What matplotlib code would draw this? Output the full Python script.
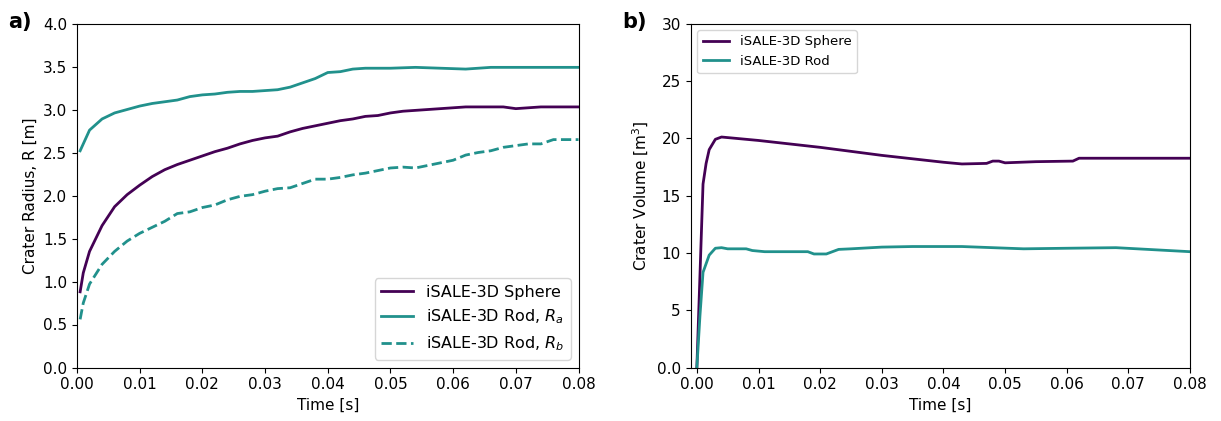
import matplotlib
matplotlib.use('Agg')
import matplotlib.pyplot as plt
import numpy as np

PURPLE = '#440154'
TEAL = '#21918c'

# panel a) crater radius
t_sphere = [0.0005, 0.001, 0.002, 0.004, 0.006, 0.008, 0.010, 0.012, 0.014, 0.016, 0.018, 0.020,
            0.022, 0.024, 0.026, 0.028, 0.030, 0.032, 0.034, 0.036, 0.038, 0.040, 0.042, 0.044,
            0.046, 0.048, 0.050, 0.052, 0.054, 0.056, 0.058, 0.060, 0.062, 0.064, 0.066, 0.068,
            0.070, 0.072, 0.074, 0.076, 0.078, 0.080]
r_sphere = [0.88, 1.10, 1.35, 1.65, 1.87, 2.01, 2.12, 2.22, 2.30, 2.36, 2.41, 2.46,
            2.51, 2.55, 2.60, 2.64, 2.67, 2.69, 2.74, 2.78, 2.81, 2.84, 2.87, 2.89,
            2.92, 2.93, 2.96, 2.98, 2.99, 3.00, 3.01, 3.02, 3.03, 3.03, 3.03, 3.03,
            3.01, 3.02, 3.03, 3.03, 3.03, 3.03]

t_rod_a = [0.0005, 0.002, 0.004, 0.006, 0.008, 0.010, 0.012, 0.014, 0.016, 0.018, 0.020, 0.022,
           0.024, 0.026, 0.028, 0.030, 0.032, 0.034, 0.036, 0.038, 0.040, 0.042, 0.044, 0.046,
           0.050, 0.054, 0.058, 0.062, 0.066, 0.070, 0.074, 0.078, 0.080]
r_rod_a = [2.52, 2.76, 2.89, 2.96, 3.00, 3.04, 3.07, 3.09, 3.11, 3.15, 3.17, 3.18,
           3.20, 3.21, 3.21, 3.22, 3.23, 3.26, 3.31, 3.36, 3.43, 3.44, 3.47, 3.48,
           3.48, 3.49, 3.48, 3.47, 3.49, 3.49, 3.49, 3.49, 3.49]

t_rod_b = [0.0005, 0.001, 0.002, 0.004, 0.006, 0.008, 0.010, 0.012, 0.014, 0.016, 0.018, 0.020,
           0.022, 0.024, 0.026, 0.028, 0.030, 0.032, 0.034, 0.036, 0.038, 0.040, 0.042, 0.044,
           0.046, 0.048, 0.050, 0.052, 0.054, 0.056, 0.058, 0.060, 0.062, 0.064, 0.066, 0.068,
           0.070, 0.072, 0.074, 0.076, 0.078, 0.080]
r_rod_b = [0.56, 0.75, 0.97, 1.20, 1.35, 1.47, 1.56, 1.63, 1.70, 1.79, 1.81, 1.86,
           1.89, 1.95, 1.99, 2.01, 2.05, 2.08, 2.09, 2.14, 2.19, 2.19, 2.21, 2.24,
           2.26, 2.29, 2.32, 2.33, 2.32, 2.35, 2.38, 2.41, 2.47, 2.50, 2.52, 2.56,
           2.58, 2.60, 2.60, 2.65, 2.65, 2.65]

# panel b) crater volume
t_vol_sphere = [0.0, 0.0005, 0.001, 0.0015, 0.002, 0.003, 0.004, 0.005, 0.010, 0.020, 0.030,
                0.040, 0.043, 0.047, 0.048, 0.049, 0.050, 0.055, 0.061, 0.062, 0.080]
v_sphere = [0.0, 8.0, 16.0, 17.8, 19.0, 19.9, 20.1, 20.05, 19.8, 19.2, 18.5,
            17.9, 17.75, 17.8, 18.0, 18.0, 17.85, 17.95, 18.0, 18.25, 18.25]

t_vol_rod = [0.0, 0.0005, 0.001, 0.002, 0.003, 0.004, 0.005, 0.008, 0.009, 0.011, 0.018, 0.019,
             0.021, 0.023, 0.025, 0.030, 0.035, 0.043, 0.053, 0.060, 0.068, 0.080]
v_rod = [0.0, 4.5, 8.3, 9.8, 10.4, 10.45, 10.35, 10.35, 10.2, 10.1, 10.1, 9.9,
         9.9, 10.3, 10.35, 10.5, 10.55, 10.55, 10.35, 10.4, 10.45, 10.1]


def setup_axes(ax, xlim, ylim, yticks, ylabel):
    ax.set_xlim(*xlim)
    ax.set_ylim(*ylim)
    ax.set_xticks(np.arange(0, 0.081, 0.01))
    ax.set_yticks(yticks)
    ax.set_xlabel('Time [s]', fontsize=11)
    ax.set_ylabel(ylabel, fontsize=11)
    ax.tick_params(labelsize=11)


figure = plt.figure(figsize=(12.21, 4.21), dpi=100)
ax_a = figure.add_axes([77 / 1221, 1 - 367.5 / 421, 501.5 / 1221, 344 / 421])
ax_b = figure.add_axes([690.7 / 1221, 1 - 367.5 / 421, 499.3 / 1221, 344 / 421])

ax_a.plot(t_sphere, r_sphere, color=PURPLE, lw=2, label='iSALE-3D Sphere')
ax_a.plot(t_rod_a, r_rod_a, color=TEAL, lw=2, label=r'iSALE-3D Rod, $R_a$')
ax_a.plot(t_rod_b, r_rod_b, color=TEAL, lw=2, ls='--', label=r'iSALE-3D Rod, $R_b$')
setup_axes(ax_a, (0, 0.08), (0, 4.0), np.arange(0, 4.01, 0.5), 'Crater Radius, R [m]')
ax_a.legend(loc='lower right', fontsize=11.5)

ax_b.plot(t_vol_sphere, v_sphere, color=PURPLE, lw=2, label='iSALE-3D Sphere')
ax_b.plot(t_vol_rod, v_rod, color=TEAL, lw=2, label='iSALE-3D Rod')
setup_axes(ax_b, (-0.001, 0.08), (0, 30), [0, 5, 10, 15, 20, 25, 30], r'Crater Volume [m$^3$]')
ax_b.set_yticklabels(['0.0', '5', '10', '15', '20', '25', '30'])
ax_b.legend(loc='upper left', fontsize=9.5)

figure.text(8 / 1221, 1 - 28 / 421, 'a)', fontsize=15, fontweight='bold')
figure.text(622 / 1221, 1 - 28 / 421, 'b)', fontsize=15, fontweight='bold')

figure.savefig('out.png', dpi=100)
